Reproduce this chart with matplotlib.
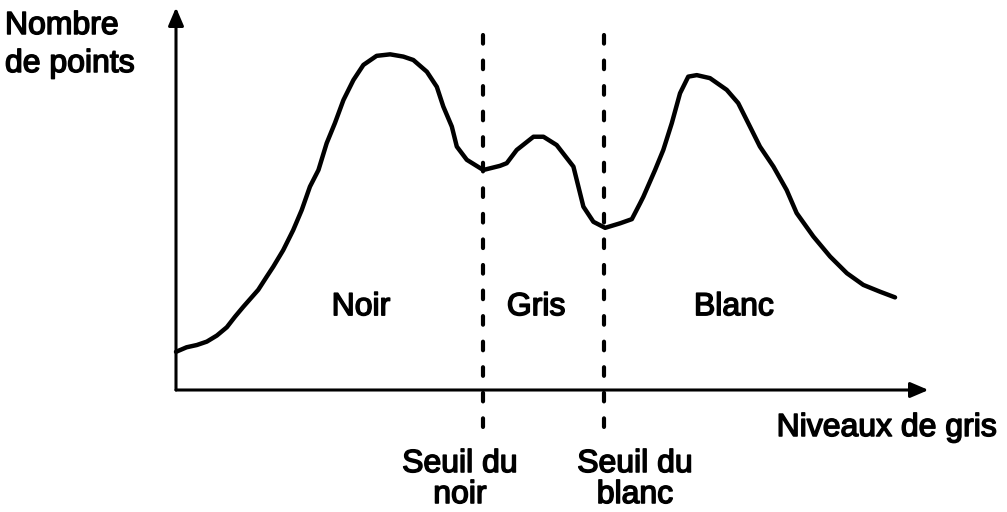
import matplotlib
matplotlib.use("Agg")
import matplotlib.pyplot as plt
import matplotlib.patheffects as pe

plt.rcParams["lines.scale_dashes"] = False

# Histogram of grey levels (x: 0-255, y: relative number of points)
grey_levels = [0, 3.6, 7.1, 10.5, 13.9, 17.3, 20.1, 22.9, 28.0, 30.9, 33.1, 36.5,
               39.9, 42.8, 45.6, 48.5, 51.3, 54.1, 57.0, 60.4, 63.8, 68.3,
               72.9, 77.4, 80.8, 85.4, 88.8, 91.0, 93.9, 95.6, 99.0, 104.6,
               110.3, 112.6, 116.0, 121.7, 125.1, 129.6, 135.3, 137.0, 138.7,
               142.1, 146.1, 151.2, 155.2, 158.0, 159.1, 163.1, 165.9, 168.8,
               171.6, 174.4, 177.3, 181.8, 187.5, 191.4, 195.4, 198.8, 203.4,
               207.9, 211.3, 217.0, 222.7, 228.4, 234.0, 239.7, 244.8]
point_counts = [10.1, 11.3, 11.9, 12.8, 14.4, 16.6, 19.4, 22.0, 26.5, 30.0, 32.6, 37.0,
                42.3, 47.6, 53.8, 58.2, 65.3, 70.6, 76.7, 82.0, 86.0, 88.4,
                88.8, 88.2, 87.3, 84.2, 80.2, 75.0, 69.7, 64.4, 60.9, 58.2,
                59.3, 60.0, 63.5, 67.0, 67.0, 64.8, 59.1, 53.8, 48.5,
                44.5, 42.9, 44.1, 45.2, 49.4, 51.1, 58.2, 63.5, 70.6,
                78.5, 82.9, 83.3, 82.5, 79.4, 75.9, 69.7, 64.4, 59.1,
                52.9, 46.8, 40.6, 35.3, 30.9, 27.8, 26.0, 24.5]

thresholds = [104.5, 145.7]
threshold_label_x = [96.7, 156.3]
threshold_labels = ["Seuil du\nnoir", "Seuil du\nblanc"]
classes = ["Noir", "Gris", "Blanc"]
class_positions = [63.0, 122.6, 190.0]

X_MAX, Y_MAX = 255, 100

W, H = 1007, 512
fig = plt.figure(figsize=(W / 100, H / 100), dpi=100)
fig.patch.set_facecolor("white")
ax = fig.add_axes([176 / W, (H - 390) / H, (925 - 176) / W, (390 - 12) / H])
ax.set_xlim(0, X_MAX)
ax.set_ylim(0, Y_MAX)
ax.axis("off")

font = dict(family=["Liberation Sans", "DejaVu Sans"], fontsize=23, color="black",
            path_effects=[pe.withStroke(linewidth=1.1, foreground="black")])

# axes with arrowheads
arrow = dict(arrowstyle="-|>,head_length=0.75,head_width=0.32", lw=2.2,
             color="black", mutation_scale=14.5, shrinkA=0, shrinkB=0)
ax.annotate("", xy=(X_MAX + 1.2, 0), xytext=(0, 0), arrowprops=arrow,
            annotation_clip=False)
ax.annotate("", xy=(0, Y_MAX + 1.2), xytext=(0, 0), arrowprops=arrow,
            annotation_clip=False)

# histogram curve
ax.plot(grey_levels, point_counts, color="black", lw=3.2,
        solid_joinstyle="round", solid_capstyle="round", clip_on=False)

# threshold lines
for t in thresholds:
    ax.plot([t, t], [93.9, -13.5], color="black", lw=3.0,
            linestyle=(0, (6.2, 12.2)), dash_capstyle="round", clip_on=False)

# class names
for name, xpos in zip(classes, class_positions):
    ax.text(xpos, 19.8, name, ha="center", va="baseline", **font)

# threshold labels (below the x axis)
for xpos, lab in zip(threshold_label_x, threshold_labels):
    first, second = lab.split("\n")
    ax.text(xpos, -21.7, first, ha="center", va="baseline", clip_on=False, **font)
    ax.text(xpos, -29.9, second, ha="center", va="baseline", clip_on=False, **font)

# axis titles
fig.text(5 / W, 1 - 34 / H, "Nombre", ha="left", va="baseline", **font)
fig.text(5 / W, 1 - 72 / H, "de points", ha="left", va="baseline", **font)
fig.text(997 / W, 1 - 436 / H, "Niveaux de gris", ha="right", va="baseline", **font)

fig.savefig("out.png", dpi=100, facecolor="white")
